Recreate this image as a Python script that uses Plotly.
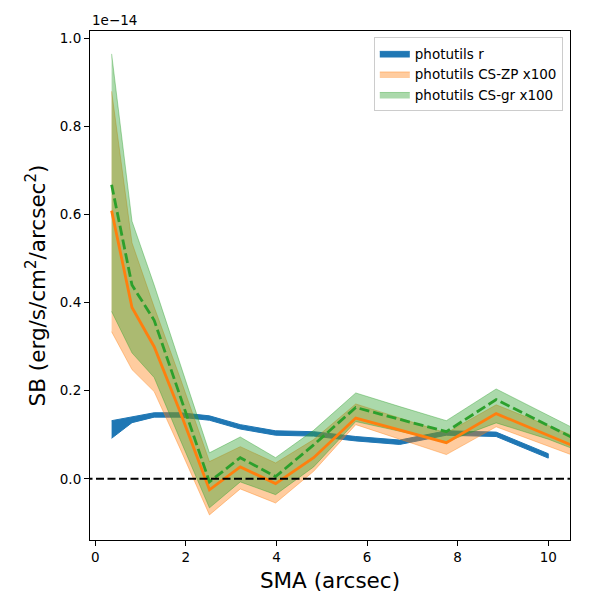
"""Surface brightness profiles with bands"""
import plotly.graph_objects as go

# data (SB in units of 1e-14 erg/s/cm^2/arcsec^2)
sma_r = [0.36, 0.81, 1.3, 1.87, 2.52, 3.2, 3.98, 4.82, 5.75, 6.72, 7.75, 8.85, 10.0]
sb_r = [0.112, 0.134, 0.145, 0.145, 0.138, 0.118, 0.104, 0.102, 0.091, 0.083, 0.104, 0.101, 0.052]
err_r = [0.020, 0.0065, 0.005, 0.005, 0.005, 0.005, 0.005, 0.005, 0.005, 0.005, 0.005, 0.005, 0.005]

sma_cs = [0.36, 0.81, 1.3, 1.87, 2.52, 3.2, 3.98, 4.82, 5.75, 6.72, 7.75, 8.85, 10.0, 10.5]
sb_zp = [0.609, 0.389, 0.30, 0.153, -0.025, 0.027, -0.011, 0.048, 0.138, 0.111, 0.082, 0.148, 0.099, 0.077]
zp_hi = [0.88, 0.536, 0.39, 0.23, 0.039, 0.073, 0.036, 0.089, 0.17, 0.138, 0.104, 0.168, 0.12, 0.10]
zp_lo = [0.334, 0.248, 0.198, 0.069, -0.082, -0.023, -0.055, 0.017, 0.123, 0.09, 0.055, 0.118, 0.074, 0.055]

sb_gr = [0.668, 0.44, 0.36, 0.19, -0.007, 0.048, 0.005, 0.077, 0.162, 0.135, 0.107, 0.18, 0.12, 0.095]
gr_hi = [0.965, 0.585, 0.44, 0.26, 0.059, 0.095, 0.048, 0.11, 0.195, 0.164, 0.132, 0.204, 0.144, 0.118]
gr_lo = [0.38, 0.286, 0.23, 0.09, -0.066, -0.007, -0.036, 0.027, 0.13, 0.108, 0.084, 0.127, 0.09, 0.07]

BLUE = '#1f77b4'
ORANGE = '#ff7f0e'
GREEN = '#2ca02c'
FONT = 'DejaVu Sans'


def band(x, lo, hi, name, fill, edge):
    return go.Scatter(x=list(x) + list(x)[::-1],
                      y=list(hi) + list(lo)[::-1],
                      fill='toself', mode='lines',
                      fillcolor=fill,
                      line=dict(color=edge, width=1),
                      name=name, hoverinfo='skip')


r_lo = [v - e for v, e in zip(sb_r, err_r)]
r_hi = [v + e for v, e in zip(sb_r, err_r)]

data = [
    band(sma_r, r_lo, r_hi, 'photutils r', BLUE, BLUE),
    band(sma_cs, zp_lo, zp_hi, 'photutils CS-ZP x100',
         'rgba(255,127,14,0.4)', 'rgba(255,127,14,0.4)'),
    band(sma_cs, gr_lo, gr_hi, 'photutils CS-gr x100',
         'rgba(44,160,44,0.4)', 'rgba(44,160,44,0.4)'),
    go.Scatter(x=sma_cs, y=sb_zp, mode='lines', showlegend=False,
               line=dict(color=ORANGE, width=2.8)),
    go.Scatter(x=sma_cs, y=sb_gr, mode='lines', showlegend=False,
               line=dict(color=GREEN, width=2.8, dash='10px,4px')),
    go.Scatter(x=[-1, 12], y=[0, 0], mode='lines', showlegend=False,
               line=dict(color='black', width=2, dash='8px,3.5px')),
]

axis_style = dict(showline=True, linecolor='black', linewidth=1.1, mirror=True,
                  ticks='outside', ticklen=5, tickwidth=1.1, tickcolor='black',
                  showgrid=False, zeroline=False, automargin=False,
                  tickfont=dict(family=FONT, size=13.5, color='black'))

# page is drawn with an 8px body margin, so the margins are shifted
layout = go.Layout(
    width=600, height=600,
    margin=dict(l=82, r=38, t=23, b=68),
    plot_bgcolor='white', paper_bgcolor='white',
    font=dict(family=FONT, color='black'),
    xaxis=dict(range=[-0.117, 10.48], tickvals=[0, 2, 4, 6, 8, 10],
               title=dict(text='SMA (arcsec)', font=dict(size=21.5), standoff=8),
               **axis_style),
    yaxis=dict(range=[-0.139, 1.017], tickvals=[0, 0.2, 0.4, 0.6, 0.8, 1.0],
               tickformat='.1f',
               title=dict(text='SB (erg/s/cm<sup>2</sup>/arcsec<sup>2</sup>)',
                          font=dict(size=21.5), standoff=8),
               **axis_style),
    legend=dict(x=0.985, y=0.988, xanchor='right', yanchor='top',
                bgcolor='rgba(255,255,255,0.8)', bordercolor='#cccccc',
                borderwidth=1, font=dict(family=FONT, size=13.5)),
    annotations=[dict(text='1e\u221214', xref='paper', yref='paper', x=0, y=1,
                      xanchor='left', yanchor='bottom', yshift=1, showarrow=False,
                      font=dict(family=FONT, size=13.5))],
)

fig = go.Figure(data=data, layout=layout)
fig.write_html('out.html')
